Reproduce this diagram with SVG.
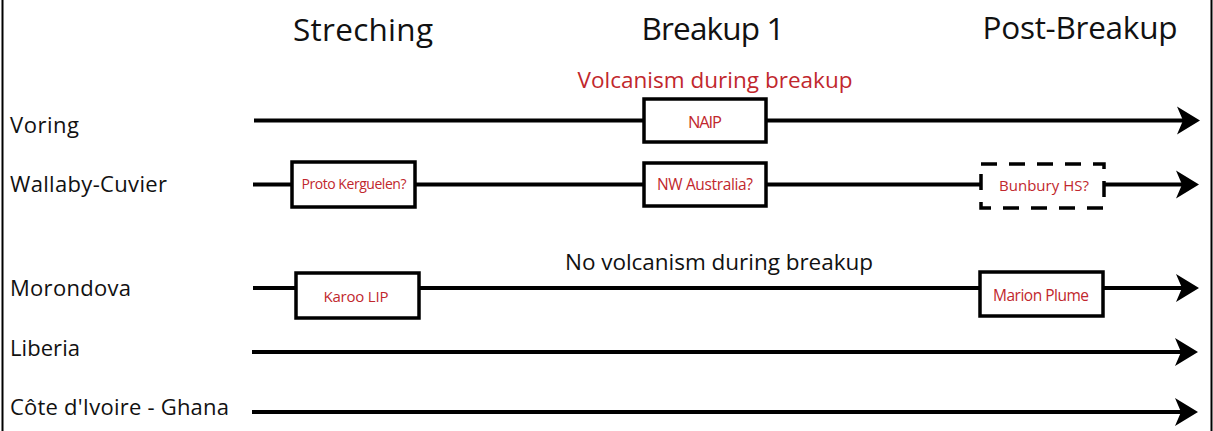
<svg xmlns="http://www.w3.org/2000/svg" width="1213" height="431" viewBox="0 0 1213 431">
  <style>
    .hdr { font-family: "Open Sans", "Liberation Sans", sans-serif; font-size: 31.5px; fill: #111; text-anchor: middle; }
    .lbl { font-family: "Open Sans", "Liberation Sans", sans-serif; font-size: 22px; fill: #111; }
    .note { font-family: "Open Sans", "Liberation Sans", sans-serif; font-size: 22.5px; text-anchor: middle; }
    .red { fill: #c1272d; }
    .box { fill: #fff; stroke: #000; stroke-width: 3.5; }
    .dash { stroke-dasharray: 16 12; }
    .bt { font-family: "Open Sans", "Liberation Sans", sans-serif; fill: #c1272d; text-anchor: middle; }
    .ln { stroke: #000; stroke-width: 4; fill: none; }
    .border { stroke: #000; stroke-width: 2; }
  </style>
  <defs>
    <marker id="arr" markerUnits="userSpaceOnUse" markerWidth="30" markerHeight="32" viewBox="-26 -16 30 32" refX="-12" refY="0" orient="auto">
      <path d="M0,0 L-23,-14 L-17,0 L-23,14 Z" fill="#000"/>
    </marker>
  </defs>
  <rect width="1213" height="431" fill="#fff"/>
  <line class="border" x1="2.5" y1="0" x2="2.5" y2="431"/>
  <line class="border" x1="1211.5" y1="0" x2="1211.5" y2="431"/>

  <g id="headers">
    <text class="hdr" x="363" y="41" textLength="140">Streching</text>
    <text class="hdr" x="713" y="40" textLength="143">Breakup 1</text>
    <text class="hdr" x="1080" y="39" textLength="195">Post-Breakup</text>
    <text class="note red" x="715" y="88" textLength="275">Volcanism during breakup</text>
    <text class="note" x="719" y="270" fill="#111" textLength="308">No volcanism during breakup</text>
  </g>

  <g id="row-labels">
    <text class="lbl" x="10" y="133" textLength="69">Voring</text>
    <text class="lbl" x="10" y="192" textLength="157">Wallaby-Cuvier</text>
    <text class="lbl" x="10" y="296" textLength="121">Morondova</text>
    <text class="lbl" x="10" y="356" textLength="70">Liberia</text>
    <text class="lbl" x="10" y="415" textLength="219">Côte d'Ivoire - Ghana</text>
  </g>

  <g id="connectors">
    <line class="ln" x1="254" y1="120.5" x2="1188" y2="120.5" marker-end="url(#arr)"/>
    <line class="ln" x1="253" y1="184.5" x2="1187" y2="184.5" marker-end="url(#arr)"/>
    <line class="ln" x1="253" y1="288" x2="1187" y2="288" marker-end="url(#arr)"/>
    <line class="ln" x1="252" y1="352" x2="1186" y2="352" marker-end="url(#arr)"/>
    <line class="ln" x1="252" y1="412" x2="1186" y2="412" marker-end="url(#arr)"/>
  </g>

  <g id="naip">
    <rect class="box" x="644" y="99" width="122" height="43"/>
    <text class="bt" x="705" y="128" font-size="16.5" textLength="34">NAIP</text>
  </g>
  <g id="proto-kerguelen">
    <rect class="box" x="292" y="162" width="123" height="45"/>
    <text class="bt" x="354" y="189" font-size="14" textLength="105">Proto Kerguelen?</text>
  </g>
  <g id="nw-australia">
    <rect class="box" x="644" y="163" width="122" height="43"/>
    <text class="bt" x="705" y="190" font-size="15.5" textLength="96">NW Australia?</text>
  </g>
  <g id="bunbury-hs">
    <rect class="box dash" x="981" y="164" width="123" height="44"/>
    <text class="bt" x="1044" y="190.5" font-size="15" textLength="90">Bunbury HS?</text>
  </g>
  <g id="karoo-lip">
    <rect class="box" x="296" y="273" width="123" height="45"/>
    <text class="bt" x="356" y="301.5" font-size="15" textLength="65">Karoo LIP</text>
  </g>
  <g id="marion-plume">
    <rect class="box" x="980" y="272" width="123" height="44"/>
    <text class="bt" x="1041" y="300.5" font-size="15.5" textLength="96">Marion Plume</text>
  </g>
</svg>
